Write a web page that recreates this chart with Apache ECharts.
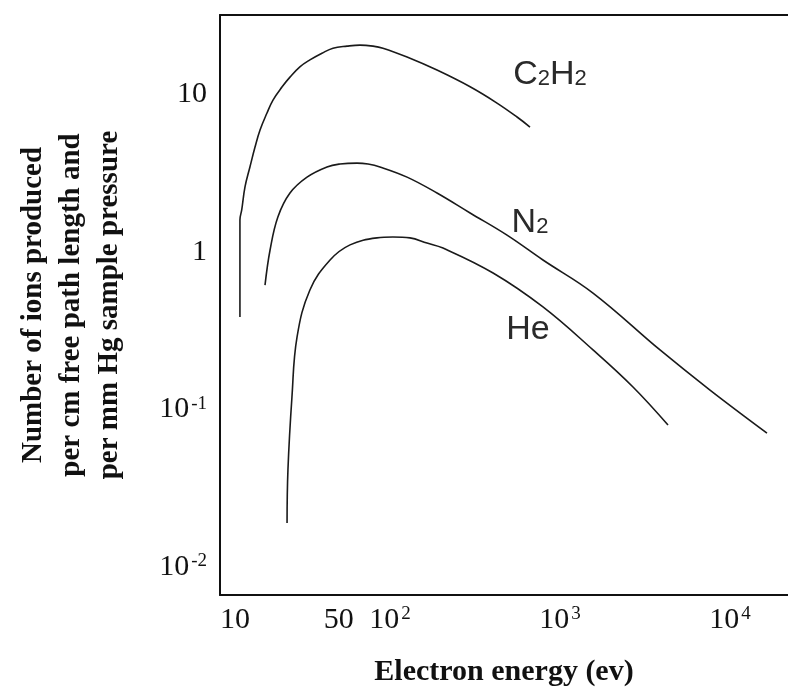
<!DOCTYPE html>
<html>
<head>
<meta charset="utf-8">
<script src="https://cdn.jsdelivr.net/npm/echarts@6/dist/echarts.min.js"></script>
<style>
  html, body { margin: 0; padding: 0; background: #fff; }
  #main { width: 788px; height: 693px; }
</style>
</head>
<body>
<div id="main"></div>
<script>
// values (energy in eV, ions per cm per mm Hg)
var c2h2Energy = [13.1, 13.1, 13.42, 14.03, 15.0, 16.07, 17.2, 18.9, 20.5, 23.2, 25.8, 29.5, 33.8, 39.8, 46.2, 55.9, 66.6, 79.4, 90.9, 126, 189, 296, 426, 559, 666];
var c2h2Ions = [0.387, 1.6, 1.85, 2.59, 3.47, 4.64, 5.95, 7.63, 9.23, 11.2, 12.9, 15.0, 16.6, 18.3, 19.7, 20.3, 20.6, 20.3, 19.7, 17.3, 14.3, 11.2, 8.83, 7.2, 6.22];

var n2Energy = [18.4, 19.7, 21.9, 25.8, 32.5, 42.6, 50.8, 63.9, 74.3, 87.3, 126, 189, 296, 488, 794, 1564, 3875, 7628, 16500];
var n2Ions = [0.617, 1.03, 1.67, 2.37, 2.99, 3.47, 3.62, 3.67, 3.62, 3.47, 2.99, 2.37, 1.77, 1.28, 0.89, 0.549, 0.239, 0.133, 0.0709];

var heEnergy = [24.8, 25.1, 26.5, 28.4, 33.8, 44.4, 58.2, 83.8, 104, 131, 165, 205, 404, 794, 1564, 2688, 4319];
var heIons = [0.019, 0.0413, 0.12, 0.289, 0.574, 0.89, 1.11, 1.23, 1.245, 1.23, 1.14, 1.06, 0.736, 0.448, 0.239, 0.139, 0.0797];

// tick labels
var xTickValues = [10, 50, 100, 1000, 10000];
var xTickLabels = ['{first|10}', '{b|50}', '{b|10}{s|2}', '{b|10}{s|3}', '{b|10}{s|4}'];
var yTickValues = [0.01, 0.1, 1, 10];
var yTickLabels = ['{b|10}{s|-2}', '{b|10}{s|-1}', '{b|1}', '{b|10}'];

// curve names
var curveNames = ['{n|C}{m|2}{n|H}{m|2}', '{n|N}{m|2}', '{n|He}'];
var curveNameAt = [[873, 13.3], [666, 1.53], [648, 0.32]];

function pairs(xs, ys) {
  return xs.map(function (x, i) { return [x, ys[i]]; });
}

var serif = 'Liberation Serif';
var ink = '#111';

var tickRich = {
  b: { fontFamily: serif, fontSize: 30, color: ink, lineHeight: 30, verticalAlign: 'bottom' },
  first: { fontFamily: serif, fontSize: 30, color: ink, lineHeight: 30, verticalAlign: 'bottom', padding: [0, 0, 0, 30] },
  s: { fontFamily: serif, fontSize: 19, color: ink, lineHeight: 19, verticalAlign: 'top', padding: [0, 0, 0, 2] }
};

var nameRich = {
  n: { fontFamily: 'Liberation Sans', fontSize: 34, color: '#2a2a2a', lineHeight: 34, verticalAlign: 'bottom' },
  m: { fontFamily: 'Liberation Sans', fontSize: 22, color: '#2a2a2a', lineHeight: 22, verticalAlign: 'bottom', padding: [0, 0, 2, 0] }
};

var lineStyle = { color: '#1a1a1a', width: 1.6 };

function curve(name, xs, ys, k) {
  return {
    name: name,
    type: 'line',
    data: pairs(xs, ys),
    smooth: 0.4,
    symbol: 'none',
    lineStyle: lineStyle,
    silent: true,
    markPoint: {
      symbol: 'circle',
      symbolSize: 0,
      label: { show: true, formatter: curveNames[k], rich: nameRich },
      data: [{ coord: curveNameAt[k] }]
    }
  };
}

var frame = { show: true, onZero: false, lineStyle: { color: ink, width: 2 } };

var myChart = echarts.init(document.getElementById('main'));

var option = {
  animation: false,
  backgroundColor: '#fff',
  grid: { left: 220, top: 15, right: 0, bottom: 98 },
  xAxis: [{
    type: 'log',
    logBase: 10,
    min: 10,
    max: 21940,
    name: 'Electron energy (ev)',
    nameLocation: 'middle',
    nameGap: 62,
    nameTextStyle: { fontFamily: serif, fontWeight: 'bold', fontSize: 30, color: ink },
    axisLine: frame,
    axisTick: { show: false },
    splitLine: { show: false },
    axisLabel: {
      customValues: xTickValues,
      margin: 10,
      formatter: function (v) {
        return xTickLabels[xTickValues.indexOf(v)] || '';
      },
      rich: tickRich
    }
  }, {
    // top edge of the frame
    type: 'log',
    position: 'top',
    min: 10,
    max: 21940,
    axisLine: frame,
    axisTick: { show: false },
    axisLabel: { show: false },
    splitLine: { show: false }
  }],
  yAxis: {
    type: 'log',
    logBase: 10,
    min: 0.00664,
    max: 32,
    name: 'Number of ions produced\nper cm free path length and\nper mm Hg sample pressure',
    nameLocation: 'middle',
    nameGap: 91,
    nameTextStyle: { fontFamily: serif, fontWeight: 'bold', fontSize: 29, lineHeight: 38, color: ink },
    axisLine: frame,
    axisTick: { show: false },
    splitLine: { show: false },
    axisLabel: {
      customValues: yTickValues,
      margin: 13,
      formatter: function (v) {
        return yTickLabels[yTickValues.indexOf(v)] || '';
      },
      rich: tickRich
    }
  },
  series: [
    curve('C2H2', c2h2Energy, c2h2Ions, 0),
    curve('N2', n2Energy, n2Ions, 1),
    curve('He', heEnergy, heIons, 2)
  ]
};

myChart.setOption(option);

window.onresize = myChart.resize;
</script>
</body>
</html>
